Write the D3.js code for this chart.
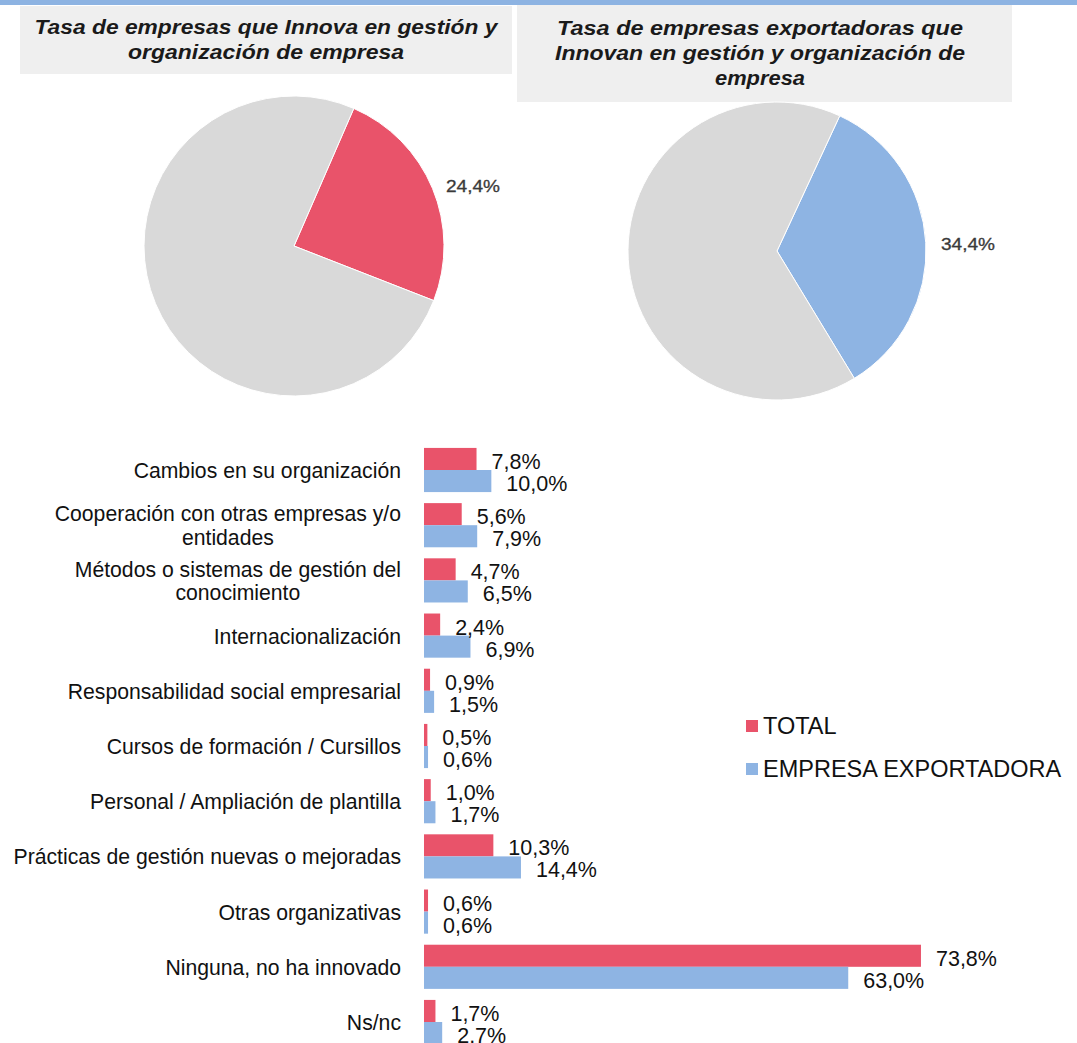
<!DOCTYPE html>
<html>
<head>
<meta charset="utf-8">
<script src="https://cdn.jsdelivr.net/npm/d3@7"></script>
<style>
  html, body { margin: 0; padding: 0; background: #fff; }
  svg { display: block; }
</style>
</head>
<body>
<svg id="chart" width="1077" height="1043"></svg>
<script>
// ---------- DATA ----------
const pieTitles = [
  ["Tasa de empresas que Innova en gestión y", "organización de empresa"],
  ["Tasa de empresas exportadoras que", "Innovan en gestión y organización de", "empresa"]
];
const pieValues = [24.4, 34.4];          // % innovating
const pieLabels = ["24,4%", "34,4%"];

const categories = [
  "Cambios en su organización",
  "Cooperación con otras empresas y/o\nentidades",
  "Métodos o sistemas de gestión del\nconocimiento",
  "Internacionalización",
  "Responsabilidad social empresarial",
  "Cursos de formación / Cursillos",
  "Personal / Ampliación de plantilla",
  "Prácticas de gestión nuevas o mejoradas",
  "Otras organizativas",
  "Ninguna, no ha innovado",
  "Ns/nc"
];
const seriesNames = ["TOTAL", "EMPRESA EXPORTADORA"];
const totalValues  = [7.8, 5.6, 4.7, 2.4, 0.9, 0.5, 1.0, 10.3, 0.6, 73.8, 1.7];
const exportValues = [10.0, 7.9, 6.5, 6.9, 1.5, 0.6, 1.7, 14.4, 0.6, 63.0, 2.7];
const totalLabels  = ["7,8%","5,6%","4,7%","2,4%","0,9%","0,5%","1,0%","10,3%","0,6%","73,8%","1,7%"];
const exportLabels = ["10,0%","7,9%","6,5%","6,9%","1,5%","0,6%","1,7%","14,4%","0,6%","63,0%","2.7%"];

// ---------- STYLE ----------
const RED = "#E9536A", BLUE = "#8EB4E3", GREY = "#D9D9D9";
const FONT = "'Liberation Sans', Arial, Helvetica, sans-serif";

const svg = d3.select("#chart");

// top band
svg.append("rect").attr("x", 0).attr("y", 0).attr("width", 1077).attr("height", 5).attr("fill", "#8DB3E2");

// ---------- PIE TITLES ----------
const titleBoxes = [
  {x: 20, y: 6, w: 492, h: 68, cx: 266, y0: 27, widths: [463, 276]},
  {x: 517, y: 5, w: 495, h: 97, cx: 760, y0: 28, widths: [406, 410, 90]}
];
titleBoxes.forEach((b, i) => {
  svg.append("rect").attr("x", b.x).attr("y", b.y).attr("width", b.w).attr("height", b.h).attr("fill", "#EFEFEF");
  pieTitles[i].forEach((line, j) => {
    svg.append("text")
      .attr("x", b.cx).attr("y", b.y0 + j * 25)
      .attr("text-anchor", "middle").attr("dominant-baseline", "central")
      .attr("font-family", FONT).attr("font-size", 19.5).attr("font-weight", "bold").attr("font-style", "italic")
      .attr("fill", "#1a1a1a")
      .attr("textLength", b.widths[j]).attr("lengthAdjust", "spacingAndGlyphs")
      .text(line);
  });
});

// ---------- PIES ----------
const pieDefs = [
  {cx: 294, cy: 246, r: 150, start: 23.5, color: RED, lx: 473, ly: 186},
  {cx: 777, cy: 251, r: 149, start: 24.9, color: BLUE, lx: 968, ly: 244}
];
pieDefs.forEach((p, i) => {
  const v = pieValues[i];
  const data = [{k: "yes", v: v, c: p.color}, {k: "no", v: 100 - v, c: GREY}];
  const pie = d3.pie().sort(null).value(d => d.v)
    .startAngle(p.start * Math.PI / 180).endAngle(p.start * Math.PI / 180 + 2 * Math.PI);
  const arc = d3.arc().innerRadius(0).outerRadius(p.r);
  const g = svg.append("g").attr("transform", `translate(${p.cx},${p.cy})`);
  g.selectAll("path").data(pie(data)).join("path")
    .attr("d", arc).attr("fill", d => d.data.c)
    .attr("stroke", "#fff").attr("stroke-width", 1);
  svg.append("text")
    .attr("x", p.lx).attr("y", p.ly)
    .attr("text-anchor", "middle").attr("dominant-baseline", "central")
    .attr("font-family", FONT).attr("font-size", 16)
    .attr("fill", "#3a3a3a").attr("stroke", "#3a3a3a").attr("stroke-width", 0.3)
    .attr("textLength", 54).attr("lengthAdjust", "spacingAndGlyphs")
    .text(pieLabels[i]);
});

// ---------- BAR CHART ----------
const x = d3.scaleLinear().domain([0, 100]).range([424, 1097.4]);
const y = d3.scaleBand().domain(categories).range([442.4, 1049.6]).paddingInner(0.2).paddingOuter(0.1);
const ySub = d3.scaleBand().domain(seriesNames).range([0, y.bandwidth()]);
const colors = d3.scaleOrdinal().domain(seriesNames).range([RED, BLUE]);

const rows = categories.map((c, i) => ({
  cat: c,
  vals: [
    {s: seriesNames[0], v: totalValues[i], lab: totalLabels[i]},
    {s: seriesNames[1], v: exportValues[i], lab: exportLabels[i]}
  ]
}));

const rowG = svg.append("g").selectAll("g").data(rows).join("g")
  .attr("transform", d => `translate(0,${y(d.cat)})`);

rowG.selectAll("rect").data(d => d.vals).join("rect")
  .attr("x", x(0))
  .attr("y", d => ySub(d.s))
  .attr("width", d => x(d.v) - x(0))
  .attr("height", ySub.bandwidth())
  .attr("fill", d => colors(d.s));

rowG.selectAll("text.val").data(d => d.vals).join("text")
  .attr("class", "val")
  .attr("x", d => x(d.v) + 15)
  .attr("y", d => ySub(d.s) + ySub.bandwidth() / 2 + 3)
  .attr("dominant-baseline", "central")
  .attr("font-family", FONT).attr("font-size", 21.5).attr("fill", "#111")
  .text(d => d.lab);

// category labels
const labelRight = 401;
rows.forEach(r => {
  const lines = r.cat.split("\n");
  const cy = y(r.cat) + y.bandwidth() / 2;
  const t = svg.append("text")
    .attr("font-family", FONT).attr("font-size", 21.2).attr("fill", "#111")
    .attr("dominant-baseline", "central");
  lines.forEach((ln, j) => {
    t.append("tspan").attr("x", 0).attr("y", cy + (j - (lines.length - 1) / 2) * 23.5).text(ln);
  });
  // measure widest line, then center the block against the right edge
  let maxW = 0;
  t.selectAll("tspan").each(function() { maxW = Math.max(maxW, this.getComputedTextLength()); });
  t.attr("text-anchor", "middle");
  t.selectAll("tspan").attr("x", labelRight - maxW / 2);
});

// legend
const legend = svg.append("g");
seriesNames.forEach((s, i) => {
  const ly = 726 + i * 43;
  legend.append("rect").attr("x", 746).attr("y", ly - 6).attr("width", 12).attr("height", 12).attr("fill", colors(s));
  legend.append("text").attr("x", 763).attr("y", ly).attr("dominant-baseline", "central")
    .attr("font-family", FONT).attr("font-size", 23.5).attr("fill", "#111").text(s);
});
</script>
</body>
</html>
